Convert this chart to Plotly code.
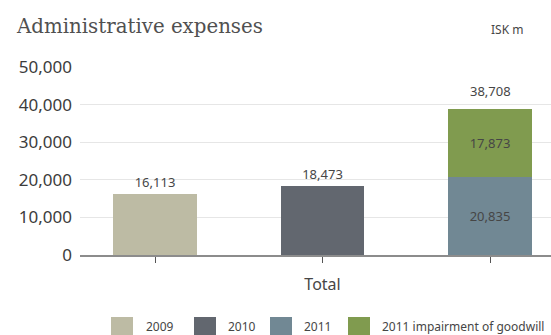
import plotly.graph_objects as go

# Administrative expenses, ISK m
series_names = ["2009", "2010", "2011", "2011 impairment of goodwill"]
series_x = [0, 1, 2, 2]
series_values = [16113, 18473, 20835, 17873]
series_colors = ["#bdbba4", "#62676f", "#718894", "#809b4f"]
label_positions = ["outside", "outside", "inside", "inside"]
category_label = "Total"

W, H = 551, 335
ML, MR, MT, MB = 80, 0, 67, 80
PW, PH = W - ML - MR, H - MT - MB

def px_x(px):
    return (px - ML) / PW

def px_y(py):
    return (H - MB - py) / PH

TEXT = "#464646"
FONT = "Noto Sans"

fig = go.Figure()
for name, x, v, c, pos in zip(series_names, series_x, series_values, series_colors, label_positions):
    fig.add_trace(go.Bar(
        x=[x], y=[v], name=name, marker=dict(color=c, line=dict(width=0)),
        width=0.5, text=[f"{v:,}"], textposition=pos,
        insidetextanchor="middle",
        textfont=dict(family=FONT, size=13, color=TEXT),
        cliponaxis=False, showlegend=False,
    ))

# total above the stacked 2011 column
totals = {}
for x, v in zip(series_x, series_values):
    totals[x] = totals.get(x, 0) + v
stack_x = [x for x in totals if series_x.count(x) > 1]
annotations = []
for x in stack_x:
    annotations.append(dict(
        x=x, y=totals[x], xref="x", yref="y", text=f"{totals[x]:,}",
        showarrow=False, yanchor="bottom", yshift=7,
        font=dict(family=FONT, size=13, color=TEXT),
    ))

# title and unit
annotations.append(dict(
    x=px_x(14), y=px_y(26), xref="paper", yref="paper",
    text="Administrative expenses", showarrow=False,
    xanchor="left", yanchor="middle",
    font=dict(family="DejaVu Serif", size=19.8, color="#505050"),
))
annotations.append(dict(
    x=px_x(507), y=px_y(30), xref="paper", yref="paper", text="ISK m",
    showarrow=False, xanchor="center", yanchor="middle",
    font=dict(family=FONT, size=12, color=TEXT),
))

# legend row along the bottom
shapes = []
sq_left = [111, 194, 270, 348]
txt_left = [144, 226, 302, 380]
for name, c, sl, tl in zip(series_names, series_colors, sq_left, txt_left):
    shapes.append(dict(
        type="rect", xref="paper", yref="paper",
        x0=px_x(sl), x1=px_x(sl + 22), y0=px_y(317), y1=px_y(336),
        fillcolor=c, line=dict(width=0),
    ))
    annotations.append(dict(
        x=px_x(tl), y=px_y(326), xref="paper", yref="paper", text=name,
        showarrow=False, xanchor="left", yanchor="middle",
        font=dict(family=FONT, size=12, color=TEXT),
    ))

fig.update_layout(
    width=W, height=H,
    margin=dict(l=ML, r=MR, t=MT, b=MB, pad=0),
    paper_bgcolor="white", plot_bgcolor="white",
    barmode="stack", bargap=0,
    annotations=annotations, shapes=shapes,
    showlegend=False,
    xaxis=dict(
        range=[-0.448, 2.364], tickvals=[0, 1, 2],
        ticktext=["", category_label, ""],
        ticks="outside", ticklen=6, tickcolor="#555555", tickwidth=1,
        showline=True, linecolor="#8c8c8c", linewidth=2,
        showgrid=False, zeroline=False, fixedrange=True,
        tickfont=dict(family=FONT, size=16, color=TEXT),
        ticklabelstandoff=8,
    ),
    yaxis=dict(
        range=[0, 50000], tickvals=[0, 10000, 20000, 30000, 40000, 50000],
        tickformat=",", showgrid=True, gridcolor="#e6e6e6", gridwidth=1,
        zeroline=False, showline=False, ticks="",
        tickfont=dict(family=FONT, size=17, color="#3c3c3c"),
        ticklabelstandoff=7, fixedrange=True,
    ),
)

fig.write_html("out.html", config={"displayModeBar": False})
